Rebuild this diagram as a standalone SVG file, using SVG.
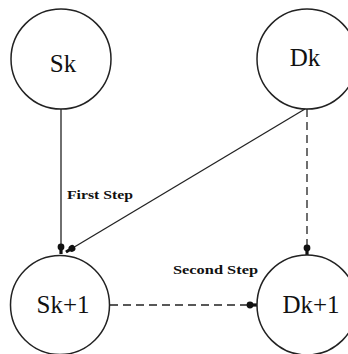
<svg xmlns="http://www.w3.org/2000/svg" width="348" height="354" viewBox="0 0 348 354">
<style>
.node circle{fill:#fff;stroke:#222;stroke-width:1.5}
.node text{font-family:"Liberation Serif","Times New Roman",serif;font-size:25px;fill:#111;text-anchor:middle}
.edge{fill:none;stroke:#222;stroke-width:1.3}
.dash{stroke-dasharray:8 5}
.lbl{font-family:"Liberation Serif","Times New Roman",serif;font-size:13px;font-weight:bold;fill:#111}
</style>
<defs>
<marker id="blob" markerUnits="userSpaceOnUse" viewBox="-11 -5 12 10" refX="0" refY="0" markerWidth="12" markerHeight="10" orient="auto">
<rect x="-7" y="-1.6" width="7" height="3.2" fill="#111"/>
<circle cx="-7" cy="0" r="3.4" fill="#111"/>
</marker>
</defs>
<rect width="348" height="354" fill="#fff"/>
<g id="connectors">
<line class="edge" x1="61" y1="109" x2="61" y2="254" marker-end="url(#blob)"/>
<line class="edge" x1="305" y1="109" x2="66" y2="252" marker-end="url(#blob)"/>
<line class="edge dash" x1="307" y1="109" x2="307" y2="255" marker-end="url(#blob)"/>
<line class="edge dash" x1="110" y1="305" x2="257" y2="305" marker-end="url(#blob)"/>
<text class="lbl" x="67" y="199" textLength="66" lengthAdjust="spacingAndGlyphs">First Step</text>
<text class="lbl" x="173" y="274" textLength="85" lengthAdjust="spacingAndGlyphs">Second Step</text>
</g>
<g id="Sk" class="node"><circle cx="61" cy="59" r="50"/><text x="63" y="72">Sk</text></g>
<g id="Dk" class="node"><circle cx="307" cy="59" r="50"/><text x="305" y="66">Dk</text></g>
<g id="Sk1" class="node"><circle cx="60" cy="305" r="49.5"/><text x="63" y="313">Sk+1</text></g>
<g id="Dk1" class="node"><circle cx="307" cy="305" r="50"/><text x="311" y="313">Dk+1</text></g>
</svg>
